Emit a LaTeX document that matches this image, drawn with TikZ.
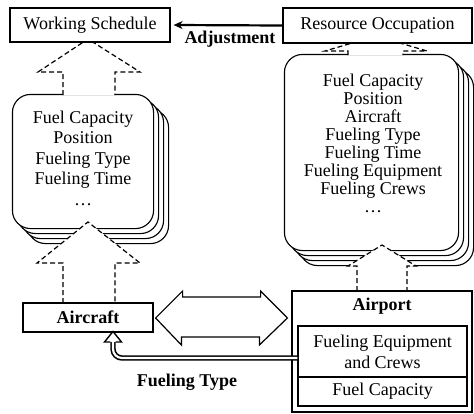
\documentclass[tikz,border=0pt]{standalone}
\usepackage{fontspec}
\setmainfont{LiberationSerif}[Extension=.ttf,UprightFont=*-Regular,BoldFont=*-Bold,ItalicFont=*-Italic,BoldItalicFont=*-BoldItalic]
\usetikzlibrary{calc,arrows.meta}
\begin{document}
\begin{tikzpicture}[x=1pt,y=-1pt,
  box/.style={draw,line width=1.2pt,fill=white,inner sep=0pt,font=\fontsize{18}{20}\selectfont},
  stackbox/.style={draw,line width=1.1pt,fill=white,rounded corners=18pt},
  fatdash/.style={draw,line width=1.2pt,fill=white,dash pattern=on 5pt off 3pt},
  lbl/.style={font=\fontsize{18}{20}\selectfont\bfseries,inner sep=0pt}]
\useasboundingbox (0,0) rectangle (474,413);

% ---- left stack
\node[stackbox,minimum width=140pt,minimum height=133pt,inner sep=0pt] (ls) at (83,161.5) {};
\foreach \i in {3,2,1}{\draw[stackbox] ($(ls.north west)+(5*\i,5*\i)$) rectangle ($(ls.south east)+(5*\i,5*\i)$);}
\draw[stackbox] (ls.north west) rectangle (ls.south east);
\node[align=center,inner sep=0pt,font=\fontsize{18}{20.5}\selectfont] (lst) at (83,158)
 {Fuel Capacity\\Position\\Fueling Type\\Fueling Time\\\dots};

% ---- right stack
\node[stackbox,minimum width=173pt,minimum height=195pt,inner sep=0pt] (rs) at (371.5,152.5) {};
\foreach \i in {3,2,1}{\draw[stackbox] ($(rs.north west)+(5*\i,5*\i)$) rectangle ($(rs.south east)+(5*\i,5*\i)$);}
\draw[stackbox] (rs.north west) rectangle (rs.south east);
\node[align=center,inner sep=0pt,font=\fontsize{18}{18}\selectfont] (rst) at (373,143)
 {Fuel Capacity\\Position\\Aircraft\\Fueling Type\\Fueling Time\\Fueling Equipment\\Fueling Crews\\\dots};

% ---- dashed fat arrows
\path[fatdash] (63,95) -- (63,72) -- (38,72) -- (88,39) -- (140,72) -- (115,72) -- (115,95);
\path[fatdash] (63,303) -- (63,263) -- (37,263) -- (88,222) -- (140,263) -- (115,263) -- (115,303);
\path[fatdash] (348,55) -- (348,51) -- (325,51) -- (376,36) -- (427,51) -- (403,51) -- (403,55);
\path[fatdash] (357,291) -- (357,266) -- (348,266) -- (382,245) -- (416,266) -- (407,266) -- (407,291);

% ---- boxes
\node[box,minimum width=160pt,minimum height=34pt] (ws) at (90,25) {Working Schedule};
\node[box,minimum width=189pt,minimum height=35pt] (ro) at (377.5,25.5) {Resource Occupation};
\node[box,minimum width=130pt,minimum height=29pt,font=\fontsize{18}{20}\selectfont\bfseries] (ac) at (88,317.5) {Aircraft};
\node[box,minimum width=180pt,minimum height=121pt] (ap) at (382,351.5) {};
\node[lbl] (apl) at (382,306) {Airport};
\node[box,minimum width=169pt,minimum height=51pt,align=center,font=\fontsize{18}{21}\selectfont] (fe) at (382.5,351.5) {Fueling Equipment\\and Crews};
\node[box,minimum width=169pt,minimum height=29pt] (fc) at (382.5,391.5) {Fuel Capacity};

% ---- adjustment arrow
\draw[line width=2.2pt,-{Stealth[length=9pt,width=8pt]}] (ro.west) -- ($(ws.east)+(3,0)$);
\node[lbl] (adj) at (230,39) {Adjustment};

% ---- double arrow
\draw[line width=1.2pt,fill=white]
  ($(ac.east)+(2,0.5)$) coordinate (dl) -- ++(27,-27) -- ++(0,6) -- ++(78,0) -- ++(0,-6)
  -- ($(ap.west)+(-4,-33.5)$) coordinate (dr) -- ++(-28,27) -- ++(0,-8) -- ++(-78,0) -- ++(0,8) -- cycle;

% ---- fueling type arrow
\coordinate (fa) at (113,342);
\draw[line width=1.6pt,double=white,double distance=2.2pt,rounded corners=9pt]
  (fe.west |- 0,358) -- (fa |- 0,358) -- (fa);
\draw[line width=1.4pt,line join=miter]
  (110.3,342) -- (104.5,342) -- (113,331.5) -- (121.5,342) -- (115.7,342);
\node[lbl] (ftl) at (187,382) {Fueling Type};
\end{tikzpicture}
\end{document}
